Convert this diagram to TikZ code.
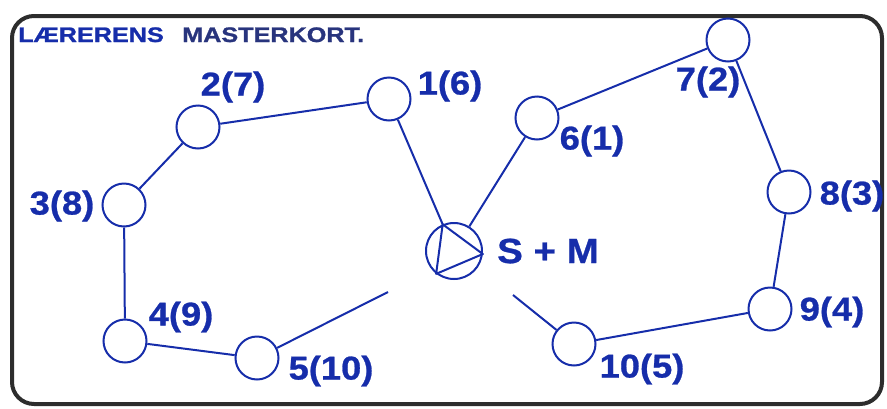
\documentclass[tikz,border=0pt]{standalone}
\usepackage{fontspec}
\setmainfont{Liberation Sans}
\newfontfamily\lblfont[FakeStretch=1.1,FakeBold=0.8]{Liberation Sans Bold}
\newfontfamily\ttlfont[FakeStretch=1.2,FakeBold=1.2]{Liberation Sans Bold}
\definecolor{inkblue}{RGB}{22,45,170}
\definecolor{navy}{RGB}{40,52,125}
\definecolor{frame}{RGB}{45,45,45}
\begin{document}
\begin{tikzpicture}[x=1pt,y=-1pt,
  stn/.style={circle,draw=inkblue,line width=2pt,minimum size=43pt,inner sep=0pt},
  hub/.style={circle,draw=inkblue,line width=2pt,minimum size=56pt,inner sep=0pt},
  lbl/.style={text=inkblue,font=\lblfont\fontsize{33}{36}\selectfont,inner sep=0pt},
  link/.style={draw=inkblue,line width=2pt},
  ttl/.style={font=\ttlfont\fontsize{21}{24}\selectfont,inner sep=0pt,anchor=base west}]
\useasboundingbox (0,0) rectangle (887,408);
\draw[frame,line width=4pt,rounded corners=22pt] (12,16) rectangle (882,404);
\node[ttl,text=inkblue] (t1) at (18,42) {LÆRERENS};
\node[ttl,text=navy] (t2) at (182,42) {MASTERKORT.};
% stations
\node[stn] (n1) at (389,99) {};
\node[stn] (n2) at (198,127) {};
\node[stn] (n3) at (124,205) {};
\node[stn] (n4) at (125,341) {};
\node[stn] (n5) at (257,358) {};
\node[stn] (n6) at (537,118) {};
\node[stn] (n7) at (728,40) {};
\node[stn] (n8) at (789,192) {};
\node[stn] (n9) at (770,309) {};
\node[stn] (n10) at (574,344) {};
\node[hub] (c) at (454,251) {};
\coordinate (tA) at (c.113);
\coordinate (tB) at (c.-6);
\coordinate (tC) at (c.232);
\draw[link,line join=round] (tA) -- (tB) -- (tC) -- cycle;
\coordinate (e5) at (388,292);
\coordinate (e10) at (513,295);
% labels
\node[lbl] (l1) at (450,86) {1(6)};
\node[lbl] (l2) at (233,87) {2(7)};
\node[lbl] (l3) at (62,206) {3(8)};
\node[lbl] (l4) at (181,317) {4(9)};
\node[lbl] (l5) at (331,371) {5(10)};
\node[lbl] (l6) at (592,141) {6(1)};
\node[lbl] (l7) at (708,82) {7(2)};
\node[lbl] (l8) at (852,196) {8(3)};
\node[lbl] (l9) at (832,312) {9(4)};
\node[lbl] (l10) at (642,369) {10(5)};
\node[lbl,font=\lblfont\fontsize{35}{38}\selectfont] (sm) at (548,251) {S + M};
% links
\draw[link] (n1) -- (tA);
\draw[link] (n1) -- (n2);
\draw[link] (n2) -- (n3);
\draw[link] (n3) -- (n4);
\draw[link] (n4) -- (n5);
\draw[link] (n5) -- (e5);
\draw[link] (c) -- (n6);
\draw[link] (n6) -- (n7);
\draw[link] (n7) -- (n8);
\draw[link] (n8) -- (n9);
\draw[link] (n9) -- (n10);
\draw[link] (n10) -- (e10);
\end{tikzpicture}
\end{document}
